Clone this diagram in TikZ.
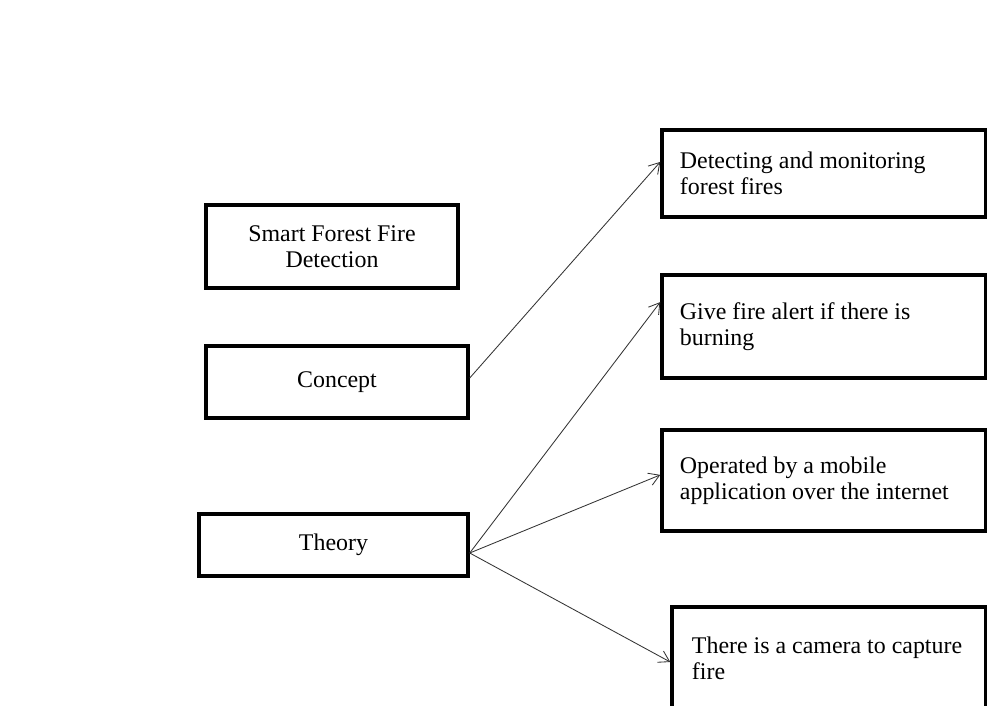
\documentclass[tikz,border=0pt]{standalone}
\usepackage{fontspec}
\setmainfont{Liberation Serif}
\usetikzlibrary{positioning, arrows.meta}
\tikzset{
    leftbox/.style={draw, line width=2.4pt, align=center, inner sep=0pt},
    itembox/.style={draw, line width=2.4pt, align=flush left, inner xsep=0.45cm, inner ysep=0pt},
    link/.style={draw=black!80, line width=0.6pt, -{Straight Barb[length=2.6mm, width=3.2mm]}}
}
\begin{document}
\begin{tikzpicture}[x=0.025cm, y=-0.025cm, font=\fontsize{17}{18.5}\selectfont]
        %bordi della figura
        \useasboundingbox[fill=white] (0,0) rectangle (987,705);
        %colonna di sinistra
        \node[leftbox, minimum width=6.3cm, minimum height=2.075cm] (title) at (332,246.5) {Smart Forest Fire\\Detection};
        \node[leftbox, minimum width=6.55cm, minimum height=1.8cm] (concept) at (337,382) {Concept};
        \node[leftbox, minimum width=6.725cm, minimum height=1.55cm] (theory) at (333.5,545) {Theory};
        %colonna di destra
        \node[itembox, text width=7.2cm, minimum height=2.175cm] (detect) at (824,173.5) {Detecting and monitoring\\forest fires};
        \node[itembox, text width=7.2cm, minimum height=2.575cm] (alert) at (824,326.5) {Give fire alert if there is\\burning};
        \node[itembox, text width=7.2cm, minimum height=2.525cm] (mobile) at (824,480.5) {Operated by a mobile\\application over the internet};
        \node[itembox, inner xsep=0.5cm, text width=6.85cm, minimum height=2.55cm] (camera) at (829,658) {There is a camera to capture\\fire};
        %frecce
        \draw[link] ([yshift=0.1cm]concept.east) -- ([yshift=0.29cm]detect.west);
        \draw[link] ([yshift=-0.2cm]theory.east) -- ([yshift=0.61cm]alert.west);
        \draw[link] ([yshift=-0.2cm]theory.east) -- ([yshift=0.14cm]mobile.west);
        \draw[link] ([yshift=-0.2cm]theory.east) -- ([yshift=-0.1cm]camera.west);
\end{tikzpicture}
\end{document}
